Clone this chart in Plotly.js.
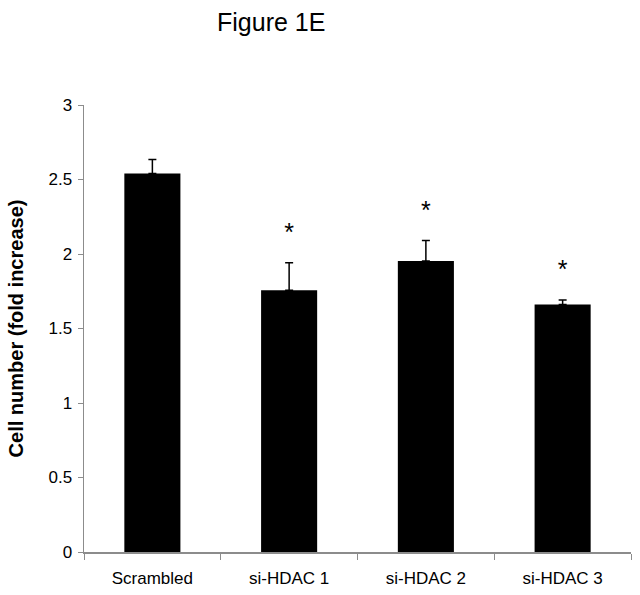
<!DOCTYPE html>
<html>
<head>
<meta charset="utf-8">
<script src="https://cdn.plot.ly/plotly-3.0.1.min.js"></script>
<style>html,body{margin:0;padding:0;background:#fff;}#chart{width:640px;height:595px;}</style>
</head>
<body>
<div id="chart"></div>
<script>
const categories = ["Scrambled", "si-HDAC 1", "si-HDAC 2", "si-HDAC 3"];
const values = [2.54, 1.757, 1.953, 1.661];
const errors = [0.094, 0.185, 0.137, 0.03];
const significant = ["", "*", "*", "*"];
const yTickVals = [0, 0.5, 1, 1.5, 2, 2.5, 3];
const yTickText = ["0", "0.5", "1", "1.5", "2", "2.5", "3"];

const starOffset = 0.19;
const starY = values.map((v, i) => v + errors[i] + starOffset);

const bars = {
  type: "bar",
  x: categories,
  y: values,
  marker: {color: "#000000", line: {width: 0}},
  error_y: {type: "data", array: errors, arrayminus: errors.map(() => 0), symmetric: false, color: "#000000", thickness: 1.5, width: 4},
  hoverinfo: "none"
};
const stars = {
  type: "scatter",
  mode: "text",
  x: categories,
  y: starY,
  text: significant,
  textposition: "middle center",
  textfont: {family: "Liberation Sans, Arial, sans-serif", size: 25, color: "#000"},
  hoverinfo: "none"
};

const layout = {
  width: 640, height: 595,
  margin: {l: 84, r: 9, t: 105, b: 43},
  paper_bgcolor: "#fff", plot_bgcolor: "#fff",
  showlegend: false,
  bargap: 0.59,
  font: {family: "Liberation Sans, Arial, sans-serif", color: "#000", size: 17},
  xaxis: {
    type: "category",
    showline: true, linecolor: "#8c8c8c", linewidth: 1.5,
    ticks: "outside", tickson: "boundaries", ticklen: 6, tickcolor: "#8c8c8c", tickwidth: 1,
    showgrid: false, zeroline: false,
    tickfont: {size: 17},
    ticklabelstandoff: 10,
    fixedrange: true
  },
  yaxis: {
    range: [0, 3],
    tickvals: yTickVals, ticktext: yTickText,
    showline: true, linecolor: "#8c8c8c", linewidth: 1.5,
    ticks: "outside", ticklen: 5, tickcolor: "#8c8c8c", tickwidth: 1,
    showgrid: false, zeroline: false,
    tickfont: {size: 17},
    ticklabelstandoff: 2,
    title: {text: "<b>Cell number (fold increase)</b>", font: {size: 20}, standoff: 19},
    fixedrange: true
  },
  annotations: [{
    text: "Figure 1E", xref: "paper", yref: "paper",
    x: (271 - 84) / 547, y: 1, xanchor: "center", yanchor: "middle",
    showarrow: false, font: {size: 25}
  }]
};
layout.annotations[0].y = 1 + (105 - 22) / (595 - 105 - 43);

Plotly.newPlot("chart", [bars, stars], layout, {displayModeBar: false, staticPlot: true});
</script>
</body>
</html>
